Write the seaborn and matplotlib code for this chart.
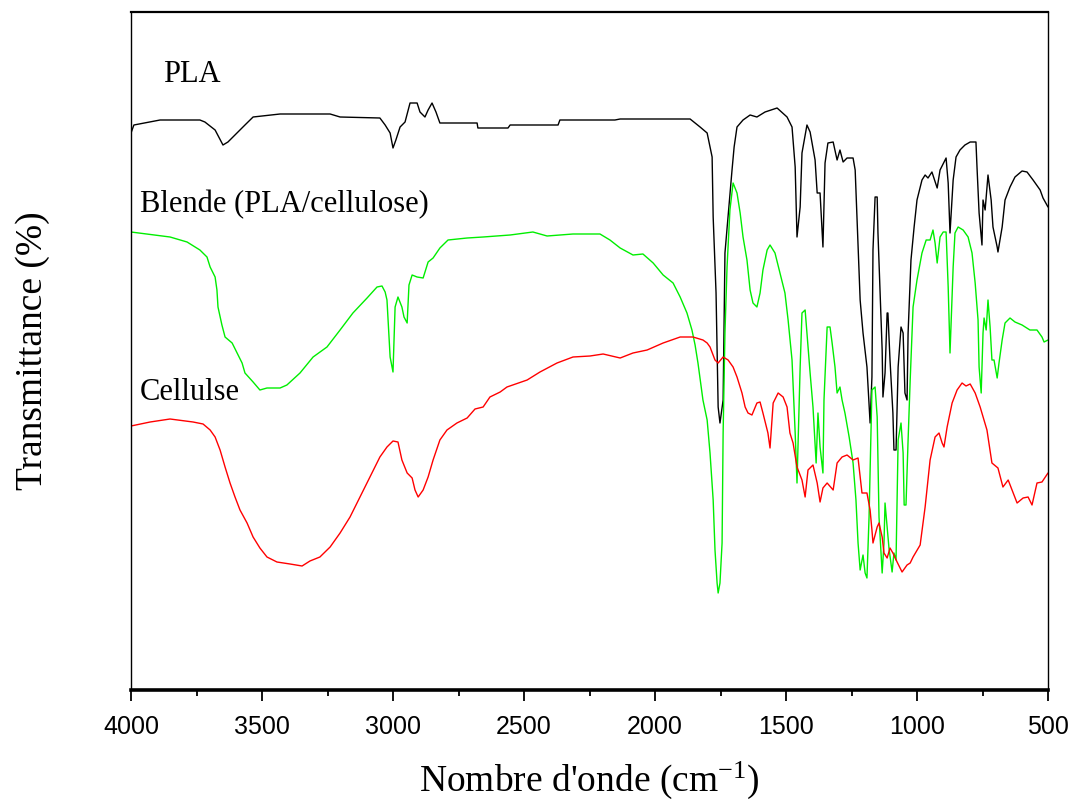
import matplotlib
matplotlib.use("Agg")
import matplotlib.pyplot as plt
import seaborn as sns
import pandas as pd

# ---- data (wavenumber cm-1, transmittance in arbitrary units) ----
pla_wn = [4000, 3989, 3889, 3737, 3718, 3679, 3649, 3630, 3592, 3565, 3534, 3431, 3240, 3202,
          3050, 3030, 3011, 3000, 2989, 2973, 2954, 2935, 2908, 2897, 2878, 2866, 2851, 2836,
          2821, 2679, 2676, 2561, 2553, 2370, 2363, 2153, 2133, 1866, 1847, 1828, 1801, 1782,
          1778, 1767, 1759, 1752, 1740, 1733, 1706, 1698, 1687, 1664, 1637, 1611, 1580, 1534,
          1496, 1477, 1465, 1458, 1446, 1439, 1420, 1408, 1389, 1381, 1370, 1359, 1351, 1340,
          1320, 1305, 1294, 1282, 1267, 1244, 1236, 1229, 1217, 1206, 1191, 1179, 1172, 1168,
          1160, 1152, 1149, 1133, 1130, 1122, 1114, 1111, 1103, 1092, 1088, 1080, 1072, 1061,
          1053, 1046, 1038, 1034, 1023, 1011, 1000, 981, 969, 958, 943, 923, 912, 889, 881,
          874, 862, 851, 836, 817, 797, 775, 771, 763, 752, 748, 740, 729, 717, 710, 694, 691,
          675, 664, 645, 626, 599, 580, 557, 530, 519, 500]
pla_t = [557, 565, 570, 570, 568, 560, 545, 548, 558, 565, 573, 576, 576, 573,
         572, 565, 557, 542, 550, 563, 568, 587, 587, 578, 573, 580, 587, 578,
         567, 567, 562, 562, 565, 565, 570, 570, 571, 571, 567, 563, 557, 533,
         473, 397, 283, 267, 290, 437, 520, 543, 563, 570, 575, 573, 578, 582,
         573, 563, 523, 453, 483, 537, 565, 558, 530, 497, 497, 443, 527, 547,
         548, 530, 540, 528, 532, 532, 520, 473, 390, 357, 323, 267, 313, 440,
         493, 493, 457, 340, 293, 317, 377, 377, 330, 277, 240, 240, 323, 363,
         357, 297, 290, 357, 430, 463, 490, 510, 515, 512, 518, 502, 520, 532, 507,
         457, 510, 533, 540, 545, 548, 548, 523, 477, 445, 490, 480, 515, 490, 463, 443, 438,
         463, 490, 503, 513, 519, 518, 510, 500, 492, 483]

blend_wn = [4000, 3851, 3786, 3737, 3710, 3698, 3679, 3672, 3668, 3653, 3641, 3614, 3595, 3576,
            3565, 3534, 3508, 3481, 3431, 3405, 3355, 3305, 3252, 3202, 3153, 3099, 3061, 3042,
            3030, 3023, 3011, 3000, 2992, 2981, 2966, 2958, 2946, 2939, 2927, 2908, 2885, 2878,
            2866, 2847, 2821, 2790, 2717, 2656, 2553, 2466, 2412, 2313, 2210, 2172, 2133, 2084,
            2046, 2007, 1969, 1931, 1904, 1878, 1859, 1847, 1836, 1817, 1801, 1790, 1778, 1771,
            1763, 1759, 1752, 1744, 1740, 1733, 1725, 1714, 1702, 1687, 1675, 1664, 1649, 1637,
            1626, 1611, 1599, 1588, 1572, 1561, 1542, 1523, 1504, 1492, 1477, 1465, 1458, 1446,
            1439, 1427, 1420, 1408, 1397, 1385, 1378, 1370, 1359, 1355, 1343, 1332, 1324, 1313,
            1305, 1294, 1286, 1275, 1259, 1244, 1233, 1225, 1217, 1206, 1198, 1191, 1183, 1172,
            1160, 1152, 1145, 1133, 1126, 1122, 1114, 1107, 1095, 1088, 1080, 1072, 1061, 1053,
            1049, 1042, 1034, 1026, 1019, 1015, 1000, 981, 965, 950, 939, 931, 923, 912, 900,
            889, 881, 874, 862, 855, 843, 824, 805, 790, 778, 767, 763, 755, 748, 744, 736, 729,
            721, 714, 706, 694, 687, 675, 664, 645, 626, 599, 569, 542, 523, 515, 500]
blend_t = [458, 453, 448, 440, 433, 423, 413, 400, 383, 365, 353, 347, 337, 327,
           317, 308, 300, 302, 302, 305, 317, 333, 343, 360, 377, 392, 403, 404,
           398, 390, 333, 318, 383, 393, 383, 373, 367, 405, 415, 413, 412, 418,
           428, 432, 442, 450, 452, 453, 455, 458, 454, 456, 456, 450, 442, 435,
           436, 427, 415, 407, 393, 377, 360, 345, 327, 290, 270, 237, 190, 140,
           107, 97, 107, 147, 257, 357, 423, 480, 507, 497, 477, 453, 430, 400,
           387, 383, 397, 420, 440, 445, 437, 417, 397, 370, 330, 257, 207, 323,
           377, 380, 357, 317, 283, 227, 277, 243, 217, 290, 363, 363, 347, 323,
           297, 303, 290, 277, 253, 227, 190, 147, 120, 135, 117, 112, 173, 300,
           303, 273, 173, 117, 147, 187, 163, 142, 118, 137, 130, 250, 267, 237,
           185, 185, 250, 310, 357, 383, 410, 437, 450, 450, 460, 447, 427, 453, 458,
           458, 403, 337, 423, 457, 463, 460, 453, 437, 407, 370, 323, 297, 357, 372, 360, 390,
           363, 330, 330, 312, 327, 350, 367, 372, 368, 365, 360, 360, 353, 348, 350]

cell_wn = [4000, 3927, 3851, 3763, 3725, 3698, 3679, 3660, 3641, 3622, 3603, 3584, 3557, 3534,
           3508, 3481, 3443, 3393, 3347, 3317, 3279, 3240, 3202, 3164, 3126, 3088, 3050, 3023,
           3000, 2981, 2966, 2946, 2927, 2916, 2904, 2885, 2866, 2847, 2821, 2794, 2756, 2717,
           2687, 2656, 2630, 2591, 2565, 2488, 2439, 2374, 2313, 2248, 2198, 2133, 2084, 2030,
           1969, 1904, 1855, 1817, 1801, 1790, 1771, 1759, 1740, 1721, 1702, 1687, 1668, 1656,
           1645, 1630, 1611, 1599, 1588, 1569, 1561, 1549, 1530, 1511, 1496, 1485, 1473, 1458,
           1439, 1427, 1416, 1397, 1381, 1370, 1359, 1343, 1320, 1305, 1286, 1267, 1244, 1225,
           1210, 1191, 1179, 1172, 1168, 1152, 1145, 1133, 1126, 1114, 1103, 1092, 1076, 1057,
           1038, 1026, 1015, 988, 969, 950, 931, 916, 904, 897, 885, 866, 847, 828, 813, 797,
           778, 759, 733, 714, 691, 672, 652, 633, 618, 595, 576, 561, 542, 523, 500]
cell_t = [264, 268, 271, 268, 266, 260, 253, 240, 223, 207, 193, 180, 167, 153,
          142, 133, 128, 126, 124, 129, 133, 143, 157, 173, 193, 213, 233, 243,
          249, 248, 230, 217, 212, 200, 193, 200, 213, 230, 250, 260, 267, 272,
          281, 283, 293, 298, 303, 310, 318, 327, 333, 334, 336, 332, 337, 340,
          347, 353, 353, 350, 347, 343, 330, 327, 333, 330, 323, 313, 297, 283,
          277, 275, 287, 288, 277, 257, 242, 287, 297, 293, 283, 257, 247, 223,
          210, 193, 220, 225, 207, 188, 202, 207, 200, 227, 233, 235, 230, 232,
          197, 197, 180, 160, 147, 163, 167, 153, 137, 132, 142, 137, 128, 118,
          125, 127, 133, 145, 183, 230, 253, 257, 247, 243, 263, 287, 300, 307, 304, 306,
          297, 283, 260, 227, 222, 203, 210, 197, 187, 192, 193, 185, 207, 208, 217]

labels = ["PLA", "Blende (PLA/cellulose)", "Cellulse"]
label_wn = [3878, 3966, 3966]
label_t = [608, 478, 290]
xticks = [4000, 3500, 3000, 2500, 2000, 1500, 1000, 500]

# ---- figure ----
sns.set_style("white")
plt.rcParams.update({
    "text.color": "black",
    "axes.labelcolor": "black",
    "xtick.color": "black",
    "ytick.color": "black",
    "mathtext.fontset": "custom",
    "mathtext.rm": "Liberation Serif",
    "mathtext.it": "Liberation Serif:italic",
})

fig, ax = plt.subplots(figsize=(10.75, 8.07), dpi=100)
fig.subplots_adjust(left=131/1075, right=1048/1075, top=1-12/807, bottom=1-690/807)

sns.lineplot(x=pla_wn, y=pla_t, ax=ax, color="black", lw=1.0, sort=False, estimator=None)
sns.lineplot(x=blend_wn, y=blend_t, ax=ax, color="#00ee00", lw=1.0, sort=False, estimator=None)
sns.lineplot(x=cell_wn, y=cell_t, ax=ax, color="#ff0000", lw=1.0, sort=False, estimator=None)

ax.set_xlim(4000, 500)
ax.set_ylim(0, 678)
ax.set_yticks([])
ax.set_xticks(xticks)
ax.set_xticks([3750, 3250, 2750, 2250, 1750, 1250, 750], minor=True)
ax.tick_params(axis="x", which="major", direction="out", length=8, width=1.3,
               bottom=True, top=False, pad=10)
ax.tick_params(axis="x", which="minor", direction="out", length=4.5, width=1.3,
               bottom=True, top=False)
for lab in ax.get_xticklabels():
    lab.set_fontfamily(["Liberation Sans Narrow", "Liberation Sans", "DejaVu Sans"])
    lab.set_fontsize(18)
    lab.set_color("black")

for side, w in [("top", 1.6), ("bottom", 2.6), ("left", 1.0), ("right", 1.0)]:
    ax.spines[side].set_visible(True)
    ax.spines[side].set_color("black")
    ax.spines[side].set_linewidth(w)

serif = ["Liberation Serif", "DejaVu Serif"]
ax.set_xlabel(r"Nombre d'onde (cm$^{-1}$)", fontsize=27, fontfamily=serif, labelpad=15,
              color="black")
ax.set_ylabel("Transmittance (%)", fontsize=27, fontfamily=serif, labelpad=58,
              color="black")

for txt, xw, yt in zip(labels, label_wn, label_t):
    ax.text(xw, yt, txt, fontsize=22, fontfamily=serif, ha="left", va="baseline",
            color="black")

fig.savefig("out.png", dpi=100)
